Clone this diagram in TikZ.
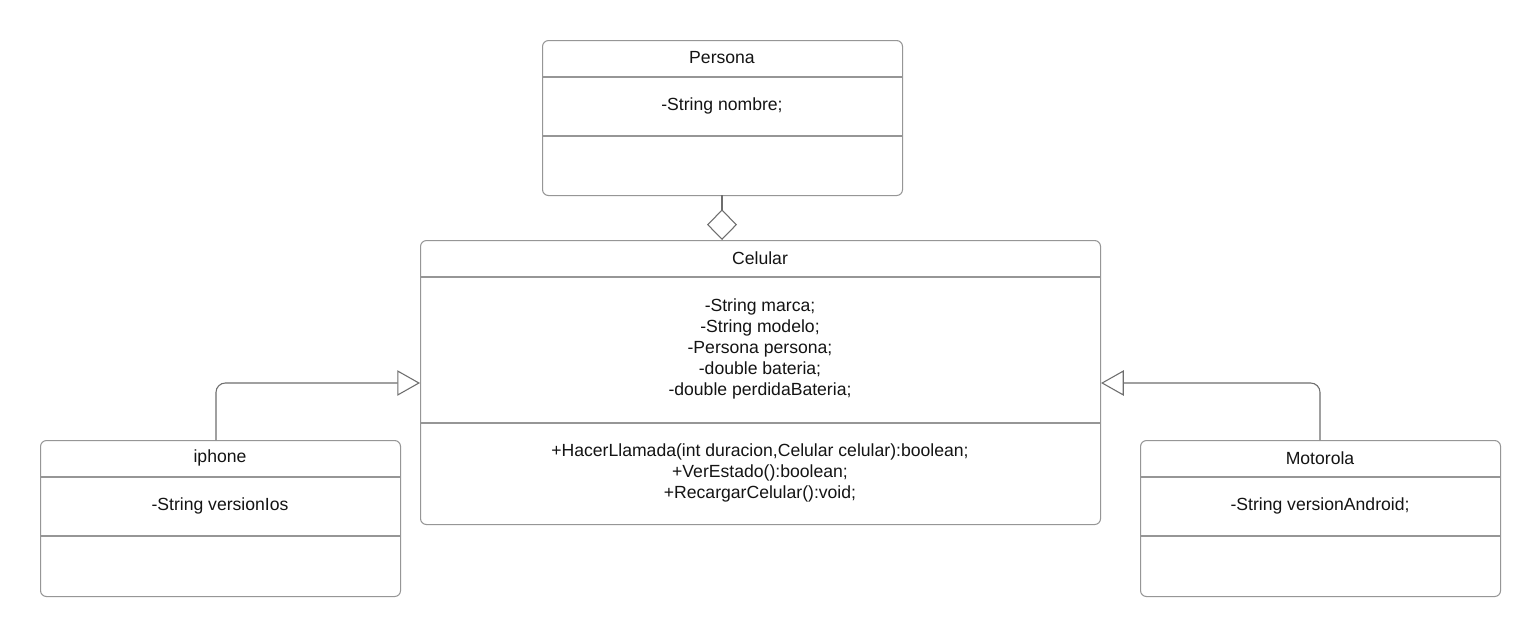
\documentclass[tikz,border=0pt]{standalone}
\usepackage{fontspec}
\setmainfont{Liberation Sans}
\usetikzlibrary{arrows.meta,calc}
\definecolor{boxline}{RGB}{150,150,150}
\definecolor{conline}{RGB}{110,110,110}
\definecolor{txt}{RGB}{20,20,20}
\begin{document}
\begin{tikzpicture}[x=0.75pt,y=-0.75pt,
  classbox/.style={draw=boxline,line width=0.8pt,rounded corners=4.5pt,rectangle,inner sep=0pt,anchor=north west,minimum width=#1*0.75pt},
  divider/.style={draw=boxline,line width=0.8pt},
  lbl/.style={font=\fontsize{13.2}{15.75}\selectfont,text=txt,align=center,inner sep=0pt},
  inherit/.style={draw=conline,line width=0.8pt,rounded corners=7pt,-{Triangle[open,length=17pt,width=19pt,fill=white]}},
  aggr/.style={draw=conline,line width=0.8pt,-{Diamond[open,length=23pt,width=22.5pt,fill=white]}}]
\useasboundingbox (0,0) rectangle (1540,636);
\fill[white] (0,0) rectangle (1540,636);
% Persona
\node[classbox=360,minimum height=155*0.75pt] (persona) at (542,40) {};
\draw[divider] (542,77) -- (902,77);
\draw[divider] (542,136) -- (902,136);
\node[lbl] (personaT) at (722,58) {Persona};
\node[lbl] (personaA) at (722,106) {-String nombre;};
% Celular
\node[classbox=680,minimum height=284*0.75pt] (celular) at (420,240) {};
\draw[divider] (420,277) -- (1100,277);
\draw[divider] (420,423) -- (1100,423);
\node[lbl] (celularT) at (760,258) {Celular};
\node[lbl] (celularA) at (760,349) {-String marca;\\-String modelo;\\-Persona persona;\\-double bateria;\\-double perdidaBateria;};
\node[lbl] (celularM) at (760,473) {+HacerLlamada(int duracion,Celular celular):boolean;\\+VerEstado():boolean;\\+RecargarCelular():void;};
% iphone
\node[classbox=360,minimum height=156*0.75pt] (iphone) at (40,440) {};
\draw[divider] (40,477) -- (400,477);
\draw[divider] (40,536) -- (400,536);
\node[lbl] (iphoneT) at (220,458) {iphone};
\node[lbl] (iphoneA) at (220,506) {-String versionIos};
% Motorola
\node[classbox=360,minimum height=156*0.75pt] (motorola) at (1140,440) {};
\draw[divider] (1140,477) -- (1500,477);
\draw[divider] (1140,536) -- (1500,536);
\node[lbl] (motorolaT) at (1320,458) {Motorola};
\node[lbl] (motorolaA) at (1320,506) {-String versionAndroid;};
% connectors
\coordinate (ip) at (216,440);
\coordinate (mo) at (1320,440);
\coordinate (pb) at (722,195);
\coordinate (ct) at (722,240);
\draw[inherit] (ip) |- (celular.west |- 0,383);
\draw[inherit] (mo) |- (celular.east |- 0,383);
\draw[aggr] (pb) -- (ct);
\end{tikzpicture}
\end{document}
